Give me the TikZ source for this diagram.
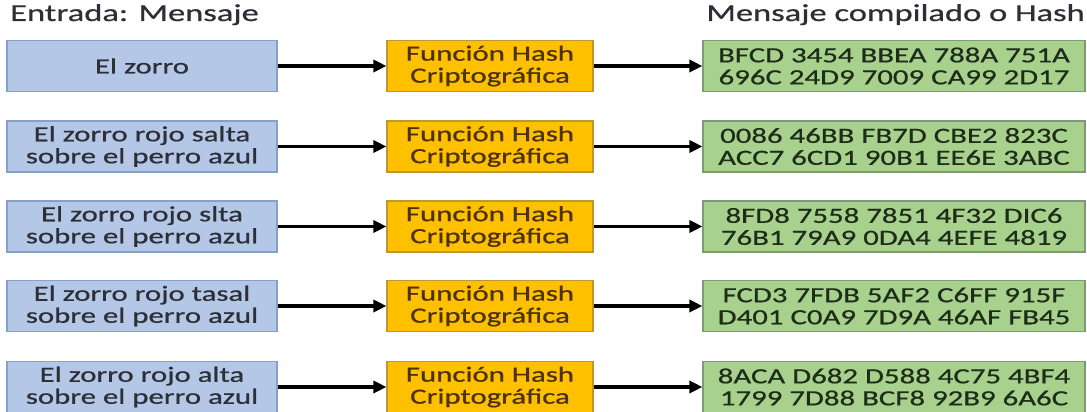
\documentclass[tikz,border=0pt]{standalone}
\usepackage{fontspec}
\setmainfont{Carlito}[FakeStretch=1.42,FakeBold=0.7]
\usetikzlibrary{arrows.meta}
\definecolor{bluefill}{RGB}{180,199,231}
\definecolor{blueline}{RGB}{135,160,200}
\definecolor{orfill}{RGB}{255,192,0}
\definecolor{orline}{RGB}{190,150,50}
\definecolor{grfill}{RGB}{169,209,142}
\definecolor{grline}{RGB}{125,155,120}
\definecolor{txtgray}{RGB}{45,47,55}
\definecolor{ortxt}{RGB}{75,50,10}
\definecolor{grtxt}{RGB}{30,45,25}
\tikzset{
  base/.style={minimum height=51pt, inner sep=0pt, align=center, line width=1.1pt,
    font=\fontsize{21.7}{22}\selectfont},
  inbox/.style={base, draw=blueline, fill=bluefill, minimum width=270pt, text=txtgray},
  hashbox/.style={base, draw=orline, fill=orfill, minimum width=206pt, text=ortxt},
  outbox/.style={base, draw=grline, fill=grfill, minimum width=382pt, text=grtxt},
  title/.style={inner sep=0pt, text=txtgray, font=\fontsize{24.3}{24}\selectfont},
  conn/.style={line width=3.2pt, -{Triangle[length=13pt,width=12pt]}},
}
\begin{document}
\begin{tikzpicture}[x=1pt,y=-1pt]
\useasboundingbox (0,0) rectangle (1087,412);
\node[title, anchor=base west] (tin) at (10,21) {Entrada: Mensaje};
\node[title, anchor=base east] (tout) at (1085,21) {Mensaje compilado o Hash};

\node[inbox] (i1) at (142,66) {El zorro};
\node[inbox] (i2) at (142,146.5) {El zorro rojo salta\\sobre el perro azul};
\node[inbox] (i3) at (142,226.5) {El zorro rojo slta\\sobre el perro azul};
\node[inbox] (i4) at (142,306) {El zorro rojo tasal\\sobre el perro azul};
\node[inbox] (i5) at (142,387) {El zorro rojo alta\\sobre el perro azul};

\foreach \k/\y in {1/66,2/146.5,3/226.5,4/306,5/387}{
  \node[hashbox] (h\k) at (490,\y) {Función Hash\\Criptográfica};
}

\node[outbox] (o1) at (894,66) {BFCD 3454 BBEA 788A 751A\\696C 24D9 7009 CA99 2D17};
\node[outbox] (o2) at (894,146.5) {0086 46BB FB7D CBE2 823C\\ACC7 6CD1 90B1 EE6E 3ABC};
\node[outbox] (o3) at (894,226.5) {8FD8 7558 7851 4F32 DIC6\\76B1 79A9 0DA4 4EFE 4819};
\node[outbox] (o4) at (894,306) {FCD3 7FDB 5AF2 C6FF 915F\\D401 C0A9 7D9A 46AF FB45};
\node[outbox] (o5) at (894,387) {8ACA D682 D588 4C75 4BF4\\1799 7D88 BCF8 92B9 6A6C};

\foreach \k in {1,...,5}{
  \draw[conn] (i\k) -- (h\k);
  \draw[conn] (h\k) -- (o\k);
}
\end{tikzpicture}
\end{document}
